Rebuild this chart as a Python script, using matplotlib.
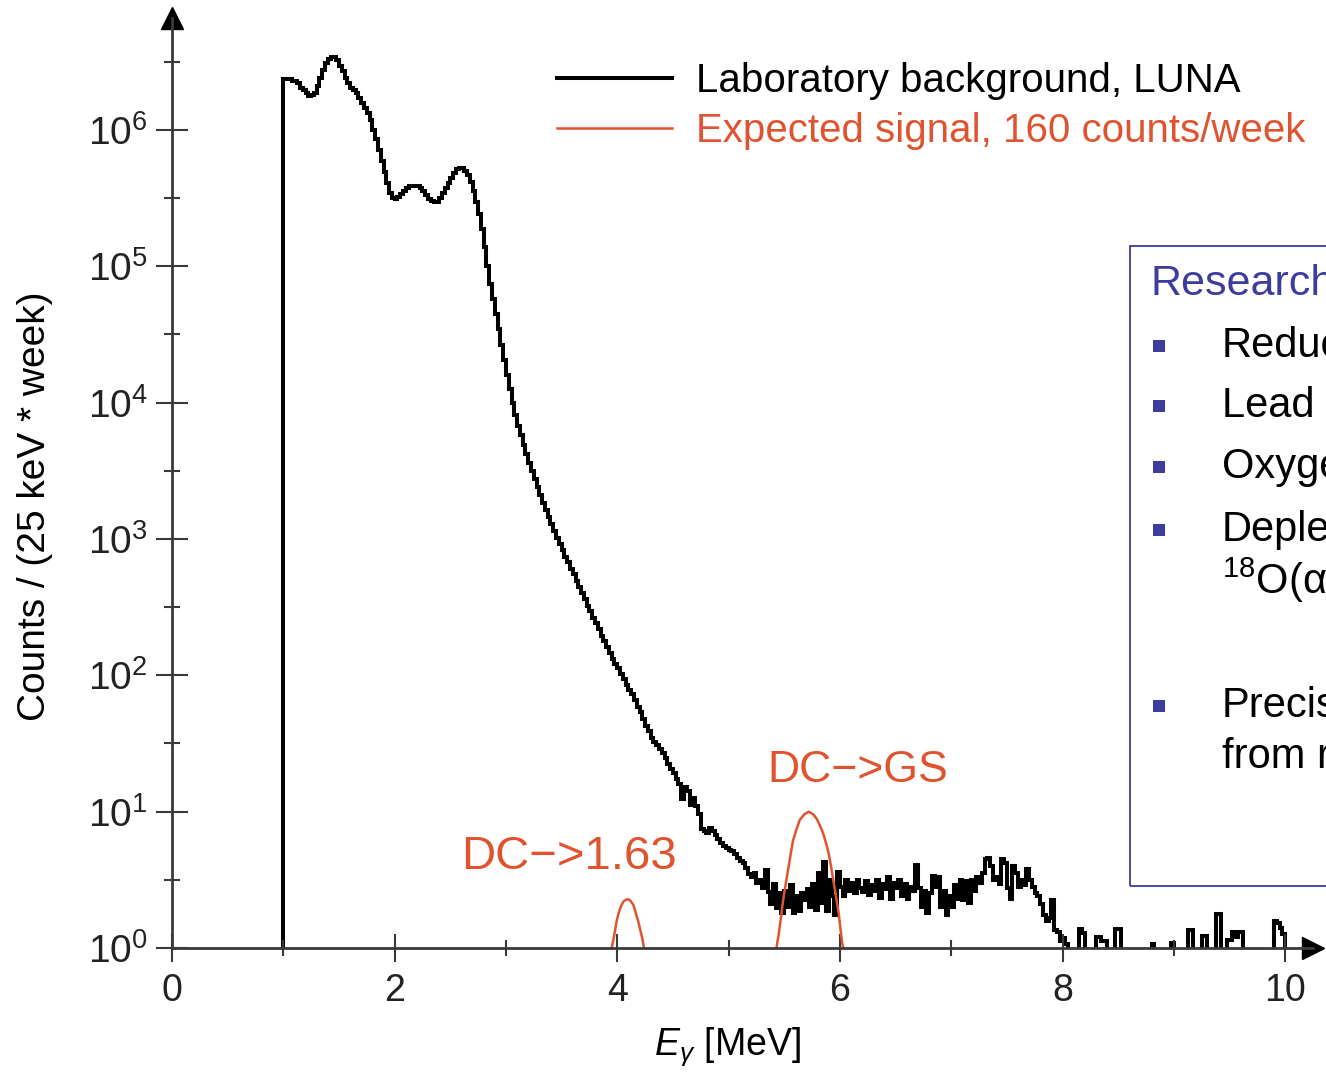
import numpy as np
import matplotlib
matplotlib.use("Agg")
import matplotlib.pyplot as plt
from matplotlib.ticker import FixedLocator, MultipleLocator, NullFormatter, LogFormatterSciNotation
from matplotlib.patches import Rectangle

plt.rcParams['font.family'] = ['Liberation Sans', 'DejaVu Sans']
plt.rcParams['mathtext.fontset'] = 'custom'
plt.rcParams['mathtext.rm'] = 'Liberation Sans'
plt.rcParams['mathtext.it'] = 'Liberation Sans:italic'

# laboratory background, 25 keV bins from 1.0 MeV, log10(counts); -1 = empty bin
bin_width = 0.025
bin_start = 1.0
bg_log10 = [
    6.37, 6.37, 6.37, 6.36, 6.355, 6.34, 6.31, 6.29, 6.27, 6.25, 6.255, 6.27, 6.32, 6.38, 6.44, 6.49, 6.52, 6.535, 6.535, 6.51,
    6.47, 6.43, 6.38, 6.34, 6.31, 6.29, 6.27, 6.23, 6.2, 6.16, 6.12, 6.07, 6.0, 5.93, 5.85, 5.77, 5.69, 5.61, 5.54, 5.5,
    5.49, 5.51, 5.53, 5.55, 5.57, 5.585, 5.59, 5.59, 5.585, 5.57, 5.55, 5.52, 5.495, 5.48, 5.47, 5.47, 5.5, 5.535, 5.57, 5.61,
    5.65, 5.68, 5.71, 5.72, 5.72, 5.70, 5.67, 5.62, 5.55, 5.47, 5.38, 5.27, 5.14, 5.0, 4.87, 4.76, 4.65, 4.54, 4.42, 4.31,
    4.2, 4.1, 4.0, 3.91, 3.83, 3.76, 3.69, 3.62, 3.56, 3.5, 3.44, 3.38, 3.32, 3.26, 3.21, 3.16, 3.11, 3.06, 3.01, 2.96,
    2.92, 2.87, 2.83, 2.78, 2.74, 2.69, 2.65, 2.6, 2.56, 2.51, 2.47, 2.42, 2.38, 2.34, 2.29, 2.25, 2.21, 2.16, 2.12, 2.08,
    2.05, 2.01, 1.97, 1.93, 1.89, 1.86, 1.82, 1.77, 1.73, 1.68, 1.63, 1.59, 1.54, 1.51, 1.49, 1.46, 1.43, 1.39, 1.35, 1.31,
    1.28, 1.24, 1.2, 1.09, 1.18, 1.15, 1.05, 1.1, 1.04, 0.98, 0.87, 0.86, 0.84, 0.88, 0.86, 0.83, 0.8, 0.77, 0.75, 0.73,
    0.72, 0.71, 0.69, 0.66, 0.64, 0.62, 0.59, 0.54, 0.52, 0.55, 0.48, 0.5, 0.44, 0.57, 0.41, 0.32, 0.47, 0.29, 0.4, 0.26,
    0.42, 0.3, 0.46, 0.26, 0.38, 0.27, 0.4, 0.35, 0.43, 0.3, 0.47, 0.28, 0.55, 0.33, 0.63, 0.27, 0.5, 0.38, 0.24, 0.56,
    0.45, 0.38, 0.5, 0.42, 0.48, 0.4, 0.5, 0.44, 0.41, 0.49, 0.39, 0.46, 0.42, 0.5, 0.37, 0.47, 0.43, 0.52, 0.36, 0.48,
    0.44, 0.5, 0.38, 0.47, 0.36, 0.45, 0.42, 0.61, 0.44, 0.3, 0.42, 0.26, 0.4, 0.53, 0.45, 0.52, 0.3, 0.42, 0.24, 0.38,
    0.3, 0.46, 0.36, 0.5, 0.35, 0.49, 0.33, 0.5, 0.42, 0.52, 0.48, 0.55, 0.65, 0.66, 0.6, 0.5, 0.52, 0.47, 0.65, 0.62,
    0.44, 0.36, 0.6, 0.55, 0.45, 0.5, 0.46, 0.58, 0.5, 0.45, 0.4, 0.38, 0.32, 0.24, 0.2, 0.22, 0.35, 0.13, 0.12, 0.05,
    0.07, 0.03, -1, -1, -1, -1, 0.14, 0.11, -1, -1, -1, -1, 0.08, 0.08, 0.05, 0.05, -1, -1, -1, 0.14,
    0.14, -1, -1, -1, -1, -1, -1, -1, -1, -1, -1, -1, 0.03, -1, -1, -1, -1, -1, -1, 0.04,
    -1, -1, -1, -1, -1, 0.13, 0.13, -1, -1, -1, 0.09, 0.09, -1, -1, -1, 0.25, 0.25, -1, -1, 0.06,
    0.06, 0.12, 0.08, 0.12, 0.12, -1, -1, -1, -1, -1, -1, -1, -1, -1, -1, -1, 0.2, 0.18, 0.15, 0.1,
    -1, -1, -1, -1, -1, -1, -1, -1, -1, -1, -1, -1,
]

# expected signal peaks (energy in MeV, log10 counts)
gs_energy = [5.43, 5.45, 5.47, 5.49, 5.515, 5.54, 5.56, 5.58, 5.61, 5.64, 5.68, 5.72, 5.76,
             5.79, 5.82, 5.85, 5.875, 5.9, 5.92, 5.94, 5.965, 5.99, 6.005, 6.02, 6.03]
gs_log10 = [0.0, 0.1, 0.22, 0.35, 0.48, 0.6, 0.7, 0.79, 0.87, 0.94, 0.98, 1.0, 0.98,
            0.95, 0.9, 0.84, 0.77, 0.69, 0.6, 0.5, 0.38, 0.25, 0.14, 0.04, 0.0]
e163_energy = [3.95, 3.965, 3.98, 3.995, 4.01, 4.03, 4.055, 4.08, 4.1, 4.12, 4.145, 4.165,
               4.19, 4.21, 4.225, 4.24]
e163_log10 = [0.0, 0.06, 0.13, 0.2, 0.25, 0.3, 0.34, 0.355, 0.357, 0.345, 0.315, 0.26,
              0.19, 0.12, 0.07, 0.0]

y_decades = [0, 1, 2, 3, 4, 5, 6]

bg_counts = 10.0 ** np.array(bg_log10)
bg_edges = bin_start + bin_width * np.arange(len(bg_log10) + 1)

RED = '#e0532f'
BLUE = '#3d3d9e'
AXC = '#3a3a3a'

W, H = 1326, 1082
fig = plt.figure(figsize=(W / 100, H / 100), dpi=100)
ax = fig.add_axes([172 / W, 134 / H, (1313 - 172) / W, (948 - 18) / H])
ax.set_yscale('log')
ax.set_xlim(0, 10.25)
ax.set_ylim(1, 10 ** 6.82)

ax.stairs(bg_counts, bg_edges, baseline=0.1, color='black', lw=2.9,
          label='Laboratory background, LUNA')
ax.plot(gs_energy, 10.0 ** np.array(gs_log10), color=RED, lw=1.8,
        label='Expected signal, 160 counts/week')
ax.plot(e163_energy, 10.0 ** np.array(e163_log10), color=RED, lw=1.8)

ax.text(3.57, 4.65, 'DC\u2212>1.63', color=RED, fontsize=34, ha='center', va='center')
ax.text(6.16, 20, 'DC\u2212>GS', color=RED, fontsize=32, ha='center', va='center')

# axes with arrow heads
for s in ['top', 'right']:
    ax.spines[s].set_visible(False)
for s in ['left', 'bottom']:
    ax.spines[s].set_color(AXC)
    ax.spines[s].set_linewidth(2.0)
ax.plot(1, 0, '>', color='black', ms=16, transform=ax.transAxes, clip_on=False)
ax.plot(0, 1, '^', color='black', ms=16, transform=ax.transAxes, clip_on=False)

ax.xaxis.set_major_locator(MultipleLocator(2))
ax.xaxis.set_minor_locator(MultipleLocator(1))
ax.yaxis.set_major_locator(FixedLocator([10.0 ** n for n in y_decades]))
ax.yaxis.set_major_formatter(LogFormatterSciNotation())
ax.yaxis.set_minor_locator(FixedLocator([10.0 ** (n + 0.5) for n in y_decades]))
ax.yaxis.set_minor_formatter(NullFormatter())
ax.tick_params(which='major', direction='inout', color=AXC, width=1.5, labelsize=27,
               labelcolor='#222222')
ax.tick_params(axis='y', which='major', labelsize=28, length=23, pad=6)
ax.tick_params(axis='x', which='major', length=20, pad=8)
ax.tick_params(which='minor', direction='inout', color=AXC, width=1.5, length=11)

ax.set_xlabel(r'$E_{\gamma}$ [MeV]', fontsize=27)
ax.set_ylabel('Counts / (25 keV * week)', fontsize=28)
ax.xaxis.set_label_coords(0.487, -0.083)
ax.yaxis.set_label_coords(-0.104, 0.475)

leg = ax.legend(loc='upper left', bbox_to_anchor=(557 / W, 1 - 62 / H),
                bbox_transform=fig.transFigure, frameon=False, fontsize=29,
                handlelength=2.85, handletextpad=0.6, labelspacing=0.3,
                borderpad=0, borderaxespad=0, labelcolor=['black', RED])

# text box on the right (cut by the figure edge, as in the original slide)
fig.patches.append(Rectangle((1130 / W, 1 - 886 / H), 400 / W, (886 - 246) / H,
                             transform=fig.transFigure, fill=False,
                             edgecolor=BLUE, lw=1.3))
fig.text(1150 / W, 1 - 284 / H, 'Research', color=BLUE, fontsize=31, va='center')
box_lines = [(346, 'Reduc', True), (406, 'Lead ', True), (467, 'Oxyge', True),
             (530, 'Deple', True), (580, '$^{18}$O(\u03b1', False),
             (706, 'Precis', True), (757, 'from r', False)]
for ypx, txt, bullet in box_lines:
    if bullet:
        fig.patches.append(Rectangle((1153 / W, 1 - (ypx + 6) / H), 12 / W, 12 / H,
                                     transform=fig.transFigure, color=BLUE, lw=0))
    fig.text(1222 / W, 1 - ypx / H, txt, color='black', fontsize=30, va='center')

fig.savefig('out.png', dpi=100)
